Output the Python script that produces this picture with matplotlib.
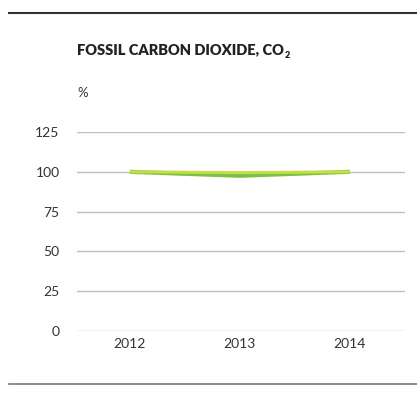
import matplotlib
matplotlib.use("Agg")
import matplotlib.pyplot as plt
from matplotlib.lines import Line2D

years = [2012, 2013, 2014]
series_light = [100, 99.5, 100]
series_green = [100, 97.5, 100]
yticks = [0, 25, 50, 75, 100, 125]
title_main = "FOSSIL CARBON DIOXIDE, CO"
title_sub = "2"
unit = "%"

plt.rcParams['font.family'] = ['Lato', 'DejaVu Sans']
text_color = '#333333'

W, H = 417, 416
fig = plt.figure(figsize=(W / 100, H / 100), dpi=100)

ax = fig.add_axes([77 / W, 1 - 331 / H, (405 - 77) / W, (331 - 132) / H])
ax.set_xlim(2011.52, 2014.5)
ax.set_ylim(0, 125)
for s in ax.spines.values():
    s.set_visible(False)
ax.set_yticks(yticks)
ax.set_yticklabels([str(v) for v in yticks])
ax.set_xticks(years)
ax.set_xticklabels([str(y) for y in years])
ax.tick_params(axis='y', length=0, pad=12.5, labelsize=10, labelcolor=text_color)
ax.tick_params(axis='x', length=0, pad=5, labelsize=10, labelcolor=text_color)
ax.grid(axis='y', color='#bdbdbd', linewidth=1.0)
ax.set_axisbelow(True)

ax.plot(years, series_green, color='#7cc242', linewidth=3, solid_capstyle='butt', clip_on=False, zorder=3)
ax.plot(years, series_light, color='#c8dc4a', linewidth=2.2, solid_capstyle='butt', clip_on=False, zorder=4)

t = fig.text(77 / W, 1 - 50 / H, title_main, fontsize=10.5, fontweight='heavy',
             color='#222222', va='center', ha='left')
fig.canvas.draw()
bb = t.get_window_extent()
fig.text((bb.x1 + 1) / W, 1 - 56 / H, title_sub, fontsize=6.5, fontweight='heavy',
         color='#222222', va='center', ha='left')
fig.text(77 / W, 1 - 93 / H, unit, fontsize=9.5, color=text_color, va='center', ha='left')

fig.add_artist(Line2D([9 / W, 1.0], [1 - 13 / H, 1 - 13 / H], transform=fig.transFigure,
                      color='#333333', linewidth=1.5))
fig.add_artist(Line2D([9 / W, 1.0], [1 - 384 / H, 1 - 384 / H], transform=fig.transFigure,
                      color='#777777', linewidth=1.2))

fig.savefig("out.png", dpi=100)
